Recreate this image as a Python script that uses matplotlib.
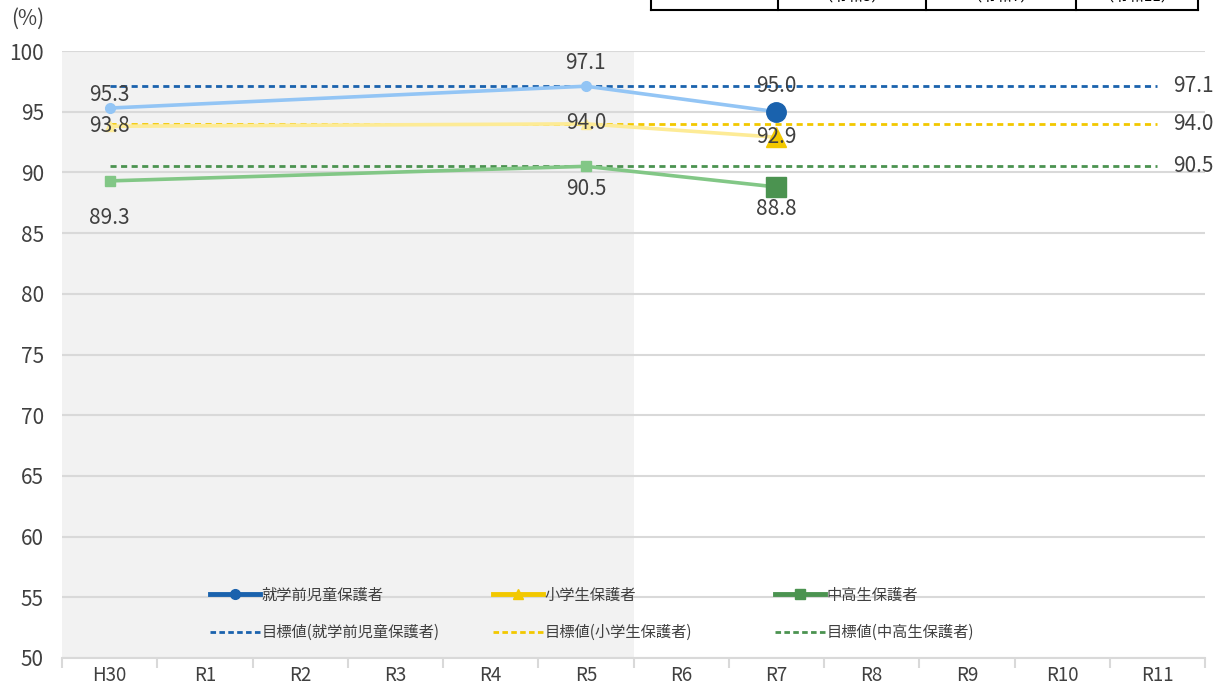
import numpy as np
import matplotlib
matplotlib.use("Agg")
import matplotlib.pyplot as plt
from matplotlib.lines import Line2D

plt.rcParams['font.family'] = ['Noto Sans CJK JP', 'DejaVu Sans']

# data
years = ["H30", "R1", "R2", "R3", "R4", "R5", "R6", "R7", "R8", "R9", "R10", "R11"]
obs_idx = [0, 5, 7]  # H30, R5, R7
preschool = [95.3, 97.1, 95.0]
elementary = [93.8, 94.0, 92.9]
secondary = [89.3, 90.5, 88.8]
target_preschool = 97.1
target_elementary = 94.0
target_secondary = 90.5
names = ["就学前児童保護者", "小学生保護者", "中高生保護者"]
table_labels = ["（令和3）", "（令和7）", "（令和11）"]

dark = ["#1a62ad", "#f2c800", "#4b9350"]
light = ["#93c5f5", "#fdeb96", "#82c786"]
markers = ["o", "^", "s"]
txt = "#404040"

# label offsets in pixels (up is positive), as placed in the original
label_px = [[13.5, 23, 26], [0, 1, 0], [-37, -23, -22.5]]

fig = plt.figure(figsize=(12.27, 6.88), dpi=100)
ax = fig.add_axes([62 / 1227, 1 - 658 / 688, 1143 / 1227, 607 / 688])

x = np.arange(len(years))
ax.axvspan(-0.5, 5.5, color="#f2f2f2", zorder=0, lw=0)

series = [preschool, elementary, secondary]
targets = [target_preschool, target_elementary, target_secondary]

for i, vals in enumerate(series):
    xs = [x[j] for j in obs_idx]
    ax.plot(xs, vals, color=light[i], lw=2.6, zorder=3)
    ax.plot(xs[:2], vals[:2], ls="none", marker=markers[i], ms=7,
            color=light[i], zorder=4)
    ax.plot(xs[2:], vals[2:], ls="none", marker=markers[i], ms=14,
            color=dark[i], zorder=5)
    for k, (xx, v) in enumerate(zip(xs, vals)):
        ax.annotate(f"{v:.1f}", (xx, v), xytext=(0, label_px[i][k] * 0.72),
                    textcoords="offset points", ha="center", va="center",
                    fontsize=15, color=txt, zorder=6)
    # target line
    ax.plot([x[0], x[-1]], [targets[i]] * 2, color=dark[i], lw=2,
            ls=(0, (2.2, 1.6)), zorder=2)
    ax.annotate(f"{targets[i]:.1f}", (x[-1], targets[i]), xytext=(26, 0),
                textcoords="offset points", ha="center", va="center",
                fontsize=15, color=txt)

# legend: one column per group
col_x = [210, 493, 775]
for i in range(3):
    hs = [Line2D([], [], color=dark[i], lw=3.5, marker=markers[i], ms=7,
                 label=names[i]),
          Line2D([], [], color=dark[i], lw=2, ls=(0, (2.0, 1.2)),
                 label="目標値(" + names[i] + ")")]
    leg = fig.legend(handles=hs, loc="center left",
                     bbox_to_anchor=(col_x[i] / 1227, 1 - 614 / 688),
                     frameon=False, fontsize=11, handlelength=3.3,
                     handletextpad=0.08, labelspacing=1.35, borderpad=0,
                     borderaxespad=0, labelcolor=txt)

ax.set_xlim(-0.5, 11.5)
ax.set_ylim(50, 100)
ax.set_yticks(np.arange(50, 101, 5))
ax.set_xticks(x)
ax.set_xticklabels(years)
ax.set_xticks(np.arange(-0.5, 12, 1), minor=True)
ax.grid(axis="y", color="#d9d9d9", lw=1.5, zorder=1)
ax.set_axisbelow(True)
for s in ["top", "right", "left"]:
    ax.spines[s].set_visible(False)
ax.spines["bottom"].set_color("#d9d9d9")
ax.spines["bottom"].set_linewidth(1.5)
ax.tick_params(axis="y", length=0, labelsize=15, labelcolor=txt, pad=13)
ax.tick_params(axis="x", which="major", length=0, labelsize=13.5,
               labelcolor=txt, pad=5)
ax.tick_params(axis="x", which="minor", length=7, width=1.5, color="#d9d9d9")

fig.text(11 / 1227, 1 - 19 / 688, "(%)", fontsize=15, color=txt,
         ha="left", va="center")

# cut-off table at the top
tf = fig.transFigure
xs_tab = [651, 778, 926, 1076, 1198]
y_line = 1 - 10 / 688
fig.add_artist(Line2D([651 / 1227, 1198 / 1227], [y_line, y_line],
                      color="black", lw=1.5, transform=tf))
for xp in xs_tab:
    fig.add_artist(Line2D([xp / 1227] * 2, [1, y_line],
                          color="black", lw=1.5, transform=tf))
for k, lab in enumerate(table_labels):
    cx = (xs_tab[k + 1] + xs_tab[k + 2]) / 2
    fig.text(cx / 1227, 1 - 5 / 688, lab, fontsize=11, color="black",
             ha="center", va="bottom")

plt.savefig("out.png", dpi=100)
